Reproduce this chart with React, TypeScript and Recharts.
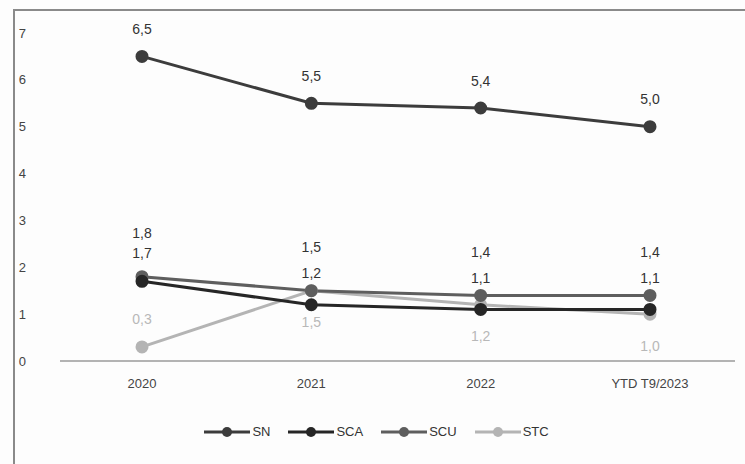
import { LineChart, Line, XAxis, YAxis, Legend, LabelList } from 'recharts'

const periods = ['2020', '2021', '2022', 'YTD T9/2023']
const sn = [6.5, 5.5, 5.4, 5.0]
const sca = [1.7, 1.2, 1.1, 1.1]
const scu = [1.8, 1.5, 1.4, 1.4]
const stc = [0.3, 1.5, 1.2, 1.0]
const yTicks = [0, 1, 2, 3, 4, 5, 6, 7]

const data = periods.map((p, i) => ({ period: p, SN: sn[i], SCA: sca[i], SCU: scu[i], STC: stc[i] }))

const colors: Record<string, string> = { SN: '#3c3c3c', SCA: '#262626', SCU: '#5e5e5e', STC: '#b4b4b4' }
const fmt = (v: any) => Number(v).toFixed(1).replace('.', ',')
const font = '"Liberation Sans", Arial, sans-serif'

// label above the point by `dy` px (negative = below)
const makeLabel = (color: string, dy: (i: number) => number) => (props: any) => {
  const { x, y, value, index } = props
  return (
    <text x={x} y={y - dy(index)} textAnchor="middle" dominantBaseline="middle"
      fontSize={14} fill={color} fontFamily={font}>{fmt(value)}</text>
  )
}

const series = ['SN', 'SCA', 'SCU', 'STC']

function LegendContent() {
  return (
    <div style={{ display: 'flex', justifyContent: 'center', gap: 18, fontFamily: font, fontSize: 13, color: '#333', paddingLeft: 18 }}>
      {series.map((s) => (
        <div key={s} style={{ display: 'flex', alignItems: 'center' }}>
          <svg width={46} height={14}>
            <line x1={0} y1={7} x2={46} y2={7} stroke={colors[s]} strokeWidth={3} />
            <circle cx={23} cy={7} r={5} fill={colors[s]} />
          </svg>
          <span style={{ marginLeft: 2 }}>{s}</span>
        </div>
      ))}
    </div>
  )
}

export default function App() {
  return (
    <div style={{ position: 'absolute', left: 0, top: 0, width: 745, height: 464, background: '#fdfdfd', overflow: 'hidden' }}>
      <div style={{ position: 'absolute', left: 13, top: 9, width: 740, height: 470, borderLeft: '2px solid #8a8a8a', borderTop: '2px solid #8a8a8a' }} />
      <LineChart width={745} height={464} data={data} margin={{ top: 33, right: 10, left: 0, bottom: 58 }}>
        <XAxis dataKey="period" padding={{ left: 82, right: 85 }} axisLine={{ stroke: '#9a9a9a', strokeWidth: 1.5 }}
          tickLine={false} tick={{ fontSize: 13, fill: '#444', fontFamily: font }} tickMargin={12} height={30} />
        <YAxis domain={[0, 7]} ticks={yTicks} width={60} axisLine={false} tickLine={false}
          tick={{ fontSize: 13, fill: '#444', fontFamily: font, dx: -26 }} />
        <Legend verticalAlign="bottom" wrapperStyle={{ top: 424 }} content={<LegendContent />} />
        <Line dataKey="STC" stroke={colors.STC} strokeWidth={3} dot={{ r: 5, fill: colors.STC, stroke: colors.STC }} isAnimationActive={false}>
          <LabelList dataKey="STC" content={makeLabel('#b8b8b8', (i) => (i === 0 ? 27 : -33))} />
        </Line>
        <Line dataKey="SCU" stroke={colors.SCU} strokeWidth={3} dot={{ r: 5, fill: colors.SCU, stroke: colors.SCU }} isAnimationActive={false}>
          <LabelList dataKey="SCU" content={makeLabel('#333', () => 42)} />
        </Line>
        <Line dataKey="SCA" stroke={colors.SCA} strokeWidth={3} dot={{ r: 5, fill: colors.SCA, stroke: colors.SCA }} isAnimationActive={false}>
          <LabelList dataKey="SCA" content={makeLabel('#333', (i) => (i === 0 ? 27 : 30))} />
        </Line>
        <Line dataKey="SN" stroke={colors.SN} strokeWidth={3} dot={{ r: 5, fill: colors.SN, stroke: colors.SN }} isAnimationActive={false}>
          <LabelList dataKey="SN" content={makeLabel('#333', () => 26)} />
        </Line>
      </LineChart>
    </div>
  )
}
